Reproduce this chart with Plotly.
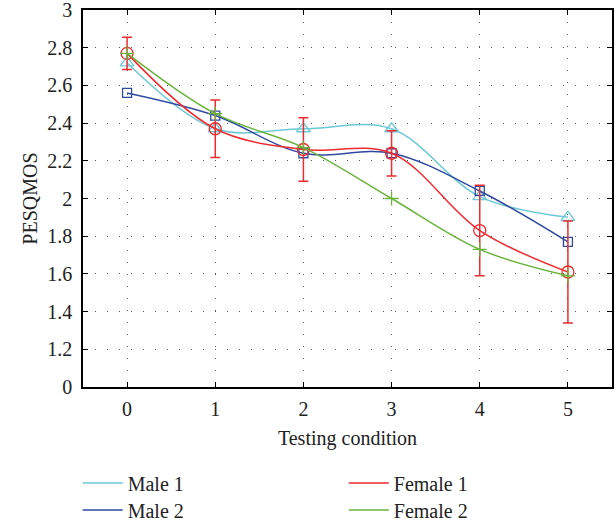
import plotly.graph_objects as go

conditions = [0, 1, 2, 3, 4, 5]
male1 = [2.72, 2.37, 2.37, 2.37, 2.01, 1.90]
male2 = [2.56, 2.44, 2.24, 2.24, 2.04, 1.77]
female1 = [2.77, 2.37, 2.26, 2.24, 1.83, 1.61]
female1_err = [0.085, 0.152, 0.168, 0.12, 0.24, 0.27]
female2 = [2.77, 2.45, 2.27, 2.00, 1.73, 1.59]

y_tickvals = [1.0, 1.2, 1.4, 1.6, 1.8, 2.0, 2.2, 2.4, 2.6, 2.8, 3.0]
y_ticktext = ["0", "1.2", "1.4", "1.6", "1.8", "2", "2.2", "2.4", "2.6", "2.8", "3"]

C_M1 = "#6cc9d6"
C_M2 = "#2f4aa0"
C_F1 = "#ee2b2f"
C_F2 = "#6ab43e"

FONT = "Liberation Serif"
FS = 20

fig = go.Figure()

def add_series(y, color, symbol, msize, err=None):
    kw = {}
    if err is not None:
        kw["error_y"] = dict(type="data", array=err, visible=True, color=color,
                             thickness=1.5, width=5)
    fig.add_trace(go.Scatter(
        x=conditions, y=y, mode="lines+markers",
        line=dict(color=color, width=1.5, shape="spline", smoothing=1.0),
        marker=dict(symbol=symbol, size=msize, color=color,
                    line=dict(color=color, width=1.3)),
        showlegend=False, **kw))

add_series(male1, C_M1, "triangle-up-open", 12)
add_series(male2, C_M2, "square-open", 9)
add_series(female1, C_F1, "circle-open", 12, female1_err)
add_series(female2, C_F2, "cross-thin-open", 10)

legend_items = [("Male 1", C_M1, "legend"), ("Male 2", C_M2, "legend2"),
                ("Female 1", C_F1, "legend3"), ("Female 2", C_F2, "legend4")]
for name, color, lg in legend_items:
    fig.add_trace(go.Scatter(x=[None], y=[None], mode="lines", name=name,
                             line=dict(color=color, width=1.5), legend=lg))

axis_common = dict(
    showline=True, linecolor="black", linewidth=1.5, mirror="ticks",
    ticks="inside", ticklen=5, tickwidth=1.2, tickcolor="black",
    showgrid=True, gridcolor="#555555", gridwidth=1, griddash="1px,11px",
    zeroline=False, tickfont=dict(family=FONT, size=FS, color="#222"),
    automargin=False, ticklabeloverflow="allow",
)

fig.update_xaxes(range=[-0.5, 5.5], tickvals=conditions, ticklabelstandoff=3,
                 title=dict(text="Testing condition", font=dict(family=FONT, size=FS, color="#222"),
                            standoff=12),
                 **axis_common)
fig.update_yaxes(range=[1.0, 3.0], tickvals=y_tickvals, ticktext=y_ticktext,
                 ticklabelstandoff=5,
                 title=dict(text="PESQMOS", font=dict(family=FONT, size=FS, color="#222"),
                            standoff=4),
                 **axis_common)

legend_common = dict(font=dict(family=FONT, size=FS, color="#222"),
                     bgcolor="rgba(0,0,0,0)", orientation="v",
                     yanchor="middle", xanchor="left", itemwidth=40)

fig.update_layout(
    width=616, height=525,
    margin=dict(l=83, r=4, t=10, b=138, autoexpand=False),
    paper_bgcolor="white", plot_bgcolor="white",
    legend=dict(x=-0.01, y=-0.2546, **legend_common),
    legend2=dict(x=-0.01, y=-0.3263, **legend_common),
    legend3=dict(x=0.493, y=-0.2546, **legend_common),
    legend4=dict(x=0.493, y=-0.3263, **legend_common),
)

fig.write_html("out.html")
